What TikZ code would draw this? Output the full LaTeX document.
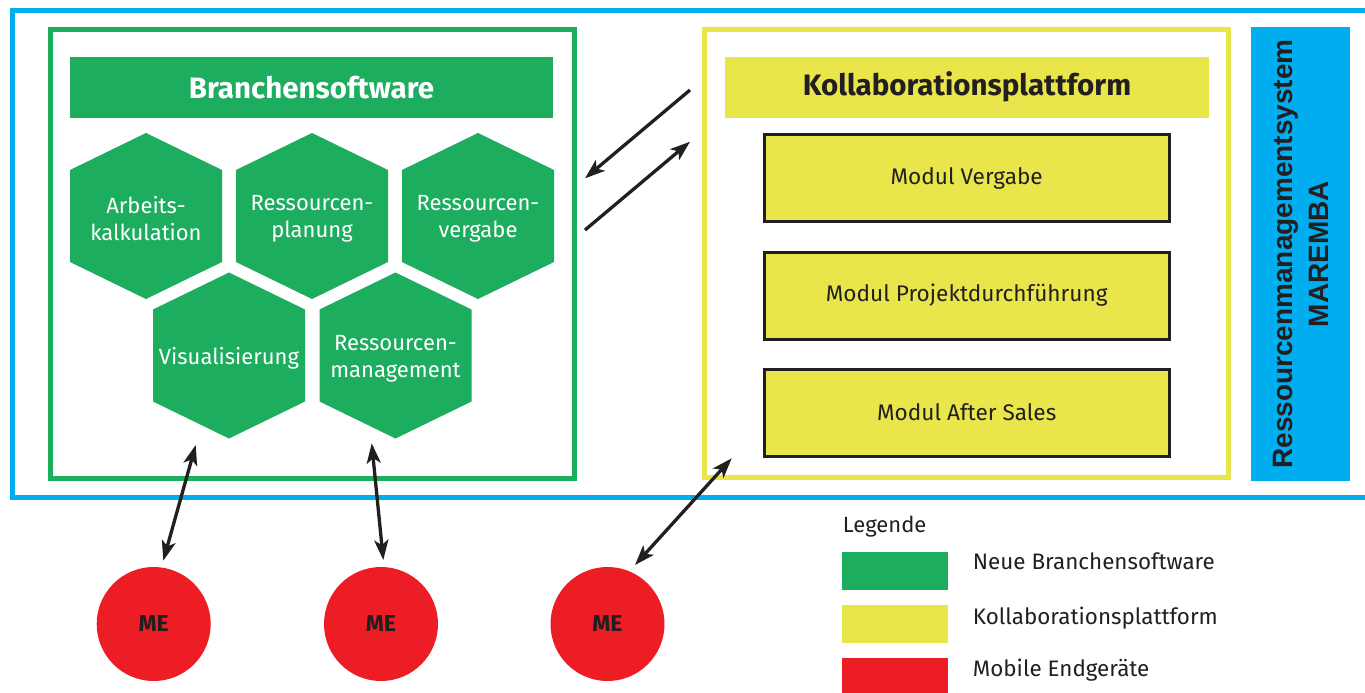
\documentclass[tikz,border=0pt]{standalone}
\usepackage{fontspec}
\setmainfont{Fira Sans}
\newfontfamily\arialfont{Liberation Sans}
\usetikzlibrary{arrows.meta}
\definecolor{cyanb}{RGB}{0,174,239}
\definecolor{brgreen}{RGB}{29,173,95}
\definecolor{kyellow}{RGB}{233,230,75}
\definecolor{mered}{RGB}{237,29,37}
\definecolor{ink}{RGB}{35,31,32}
\tikzset{
  frame/.style={draw, line width=5pt, inner sep=0pt},
  titlebar/.style={inner sep=0pt, minimum width=483pt, minimum height=61pt, font=\fontsize{29.5}{36}\selectfont\bfseries},
  hextext/.style={text=white, align=center, font=\fontsize{22}{27}\selectfont, inner sep=0pt},
  modbox/.style={draw=ink, line width=3pt, fill=kyellow, minimum width=405pt, minimum height=87pt, inner sep=0pt, text=ink, font=\fontsize{22.6}{28}\selectfont},
  me/.style={circle, fill=mered, minimum size=114pt, inner sep=0pt, text=ink, font=\fontsize{23}{28}\selectfont\bfseries},
  legbox/.style={minimum width=106pt, minimum height=38pt, inner sep=0pt},
  legtext/.style={anchor=base west, inner sep=0pt, text=ink, font=\fontsize{22.4}{28}\selectfont},
  conn/.style={draw=ink, line width=3.3pt, {Stealth[length=20pt,width=14pt,inset=5pt]}-{Stealth[length=20pt,width=14pt,inset=5pt]}},
  conn1/.style={draw=ink, line width=3.3pt, -{Stealth[length=20pt,width=14pt,inset=5pt]}}
}
\newcommand\hexnode[3]{%
  \fill[brgreen, shift={(#2)}] (0,-83) -- (76,-46) -- (76,46) -- (0,83) -- (-76,46) -- (-76,-46) -- cycle;
  \node[hextext, yshift=-3pt] (#1) at (#2) {#3};}
\begin{document}
\begin{tikzpicture}[x=1pt,y=-1pt]
\useasboundingbox (0,0) rectangle (1365,693);
\clip (0,0) rectangle (1365,693);
\fill[white] (0,0) rectangle (1365,693);

% outer blue frame
\draw[cyanb, line width=5pt] (1400,11) -- (12.5,11) -- (12.5,497) -- (1400,497);

% green frame
\node[frame, draw=brgreen, minimum width=523.5pt, minimum height=448.5pt] (bsframe) at (312.25,253.75) {};
\node[titlebar, fill=brgreen, text=white] (bstitle) at (311.5,87.2) {Branchensoftware};

\hexnode{h1}{146,216}{Arbeits-\\kalkulation}
\hexnode{h2}{312,216}{Ressourcen-\\planung}
\hexnode{h3}{478,216}{Ressourcen-\\vergabe}
\hexnode{h4}{229,355.5}{Visualisierung}
\hexnode{h5}{395.5,355.5}{Ressourcen-\\management}

% yellow frame
\node[frame, draw=kyellow, minimum width=524pt, minimum height=447.5pt] (kpframe) at (966.5,253.75) {};
\node[titlebar, fill=kyellow, text=ink, minimum width=484pt] (kptitle) at (967,87.2) {Kollaborationsplattform};
\node[modbox] (m1) at (966.7,178) {Modul Vergabe};
\node[modbox] (m2) at (966.7,295.5) {Modul Projektdurchführung};
\node[modbox] (m3) at (966.7,412.6) {Modul After Sales};

% blue side box
\node[fill=cyanb, minimum width=99pt, minimum height=454pt, inner sep=0pt] (sys) at (1300.5,254) {};
\node[rotate=90, align=center, text=ink, font=\arialfont\fontsize{28}{36}\selectfont\bfseries] (systext) at (1300.5,254) {Ressourcenmanagementsystem\\MAREMBA};

% mobile devices
\node[me] (me1) at (153.7,624) {ME};
\node[me] (me2) at (381,624) {ME};
\node[me] (me3) at (607.5,624) {ME};

% connectors
\coordinate (a1s) at (690,90);
\coordinate (a1e) at (585,178.3);
\coordinate (a2s) at (585,230);
\coordinate (a2e) at (690,141.7);
\draw[conn1] (a1s) -- (a1e);
\draw[conn1] (a2s) -- (a2e);
\coordinate (c1a) at (163.3,560.7);
\coordinate (c1b) at (195.7,445);
\coordinate (c2a) at (383.3,560);
\coordinate (c2b) at (371.7,443.3);
\coordinate (c3a) at (635,565);
\coordinate (c3b) at (731.7,458.3);
\draw[conn] (c1a) -- (c1b);
\draw[conn] (c2a) -- (c2b);
\draw[conn] (c3a) -- (c3b);

% legend
\node[anchor=base west, inner sep=0pt, text=ink, font=\fontsize{22}{26}\selectfont] (legtitle) at (842.7,532.7) {Legende};
\node[legbox, fill=brgreen] (lg1) at (895,571) {};
\node[legbox, fill=kyellow] (lg2) at (895,623.8) {};
\node[legbox, fill=mered] (lg3) at (895,677) {};
\node[legtext] (lt1) at (972.7,569.3) {Neue Branchensoftware};
\node[legtext] (lt2) at (972.7,624) {Kollaborationsplattform};
\node[legtext] (lt3) at (972.7,676.7) {Mobile Endgeräte};
\end{tikzpicture}
\end{document}
